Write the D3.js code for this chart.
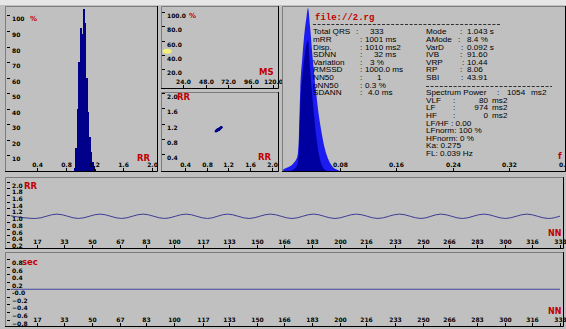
<!DOCTYPE html>
<html><head><meta charset="utf-8">
<script src="https://cdn.jsdelivr.net/npm/d3@7/dist/d3.min.js"></script>
<style>
html,body{margin:0;padding:0;background:#c0c0c0;overflow:hidden}
svg{display:block}
</style></head><body>
<svg id="chart" width="566" height="329"></svg>
<script>
// ================= DATA =================
// RR histogram (top-left)
const histRR  = [0.93,0.95,0.97,0.99,1.01,1.03,1.05,1.07,1.09,1.11,1.13,1.15,1.17,1.19,1.21];
const histPct = [2,15,40,70,92,88,104,95,60,38,22,12,6,3,1];
const histXTicks = [0.4,0.8,1.2,1.6,2.0];
const histYTicks = [100,90,80,70,60,50,40,30,20,10];

// differences histogram (top-middle)
const diffXTicks = [24,48,72,96,120];
const diffYTicks = [100,80,60,40,20];
const diffMs  = [7];
const diffPct = [45];

// Poincare plot (middle)
const poincareTicks = [0.4,0.8,1.2,1.6,2.0];
const poincareRRn  = [0.97,0.98,0.99,1.00,1.01,1.02,1.03,1.04,1.05,1.06,1.07,1.00,1.03,1.02];
const poincareRRn1 = [1.00,1.01,1.02,1.03,1.04,1.05,1.06,1.07,1.08,1.09,1.10,1.04,1.05,1.03];

// spectrum (right)
const specFreq  = [0,0.005,0.010,0.015,0.020,0.022,0.024,0.027,0.030,0.033,0.035,0.038,0.041,0.044,0.047,0.050,0.054,0.058,0.062,0.066,0.070,0.075,0.080];
const specPower = [1,2,3,5,9,20,50,70,85,95,100,88,72,58,46,35,24,15,9,5,2.5,1,0];
const specCore  = [0,0,0,1,4,12,40,58,70,78,80,62,46,32,20,11,4,1,0,0,0,0,0];
const specXTicks = [0.08,0.16,0.24,0.32,0.40];

// rhythmogram (bottom)
const beatTicks = [17,33,50,67,83,100,117,133,150,166,183,200,216,233,250,266,283,300,316,333];
const rrYTicks  = [2.0,1.8,1.6,1.4,1.2,1.0,0.8,0.6,0.4,0.2];
const rrBeats   = [1,16,29,42,55,68,81,94,107,120,132,145,158,171,184,197,210,223,236,249,261,274,287,300,313,326,333];
const rrValues  = [0.98,0.90,1.03,0.90,1.03,0.90,1.03,0.90,1.03,0.90,1.03,0.90,1.03,0.90,1.03,0.90,1.03,0.90,1.03,0.90,1.03,0.90,1.03,0.90,1.03,0.90,0.97];
const secYTicks = [0.8,0.6,0.4,0.2,0,-0.2,-0.4,-0.6,-0.8];
const diffBeats = [1,333];
const diffSec   = [0,0];

// statistics text
const fileName = "file://2.rg";
const statNames1  = ["Total QRS","mRR","Disp.","SDNN","Variation","RMSSD","NN50","pNN50","SDANN"];
const statValues1 = ["333","1001 ms","1010 ms2","32 ms","3 %","1000.0 ms","1","0.3 %","4.0 ms"];
const statNames2  = ["Mode","AMode","VarD","IVB","VRP","RP","SBI"];
const statValues2 = ["1.043 s","8.4 %","0.092 s","91.60","10.44","8.06","43.91"];
const specTitle = "Spectrum Power";
const specTitleValue = "1054";
const bandNames  = ["VLF","LF","HF"];
const bandValues = ["80","974","0"];
const bandUnit = "ms2";
const extraLines = ["LF/HF : 0.00","LFnorm: 100 %","HFnorm: 0 %","Ka: 0.275","FL: 0.039 Hz"];

// ================= DRAW =================
const svg = d3.select("#chart");
const RED = "#c00000", NAVY = "#00008a", TXT = "#000";
const TICKFONT = "'DejaVu Sans',sans-serif";
const BODYFONT = "'Liberation Sans',Arial,sans-serif";
const BODYSIZE = 6.7, BODYSTRETCH = 1.22;

svg.append("rect").attr("width",566).attr("height",329).attr("fill","#c0c0c0");
svg.append("rect").attr("width",566).attr("height",5).attr("fill","#e6e6e6");

function frame(x0,y0,x1,y1){
  svg.append("rect").attr("x",x0).attr("y",y0).attr("width",x1-x0).attr("height",y1-y0).attr("fill","#c0c0c0");
  svg.append("path").attr("d",`M${x0+0.5},${y1}V${y0+0.5}H${x1}`).attr("stroke","#7c7c7c").attr("stroke-width",1).attr("fill","none");
  svg.append("path").attr("d",`M${x0},${y1-0.5}H${x1-0.5}V${y0}`).attr("stroke","#000").attr("stroke-width",1).attr("fill","none");
}
function tickText(x,y,s,anchor){
  return svg.append("text").attr("x",x).attr("y",y).attr("font-family",TICKFONT).attr("font-weight","bold")
    .attr("font-size",6).attr("fill",TXT).attr("text-anchor",anchor||"start").text(s);
}
function redText(x,y,s,size){
  return svg.append("text").attr("x",x).attr("y",y).attr("font-family",TICKFONT).attr("font-weight","bold")
    .attr("font-size",size||8.5).attr("fill",RED).text(s);
}
function yTicks(scale,ticks,x,fmt){
  ticks.forEach(t=>{
    const y = Math.round(scale(t))+0.5;
    svg.append("line").attr("x1",x).attr("x2",x+3).attr("y1",y).attr("y2",y).attr("stroke","#000");
    tickText(x+5,y+5,fmt(t));
  });
}
function xTicks(scale,ticks,axisY,fmt){
  ticks.forEach(t=>{
    const x = Math.round(scale(t))+0.5;
    svg.append("line").attr("x1",x).attr("x2",x).attr("y1",axisY-3).attr("y2",axisY).attr("stroke","#000");
    tickText(x,axisY-4,fmt(t),"middle");
  });
}

// ---------- Panel A: RR histogram ----------
frame(5,6,158,172);
const hx = d3.scaleLinear().domain([0.4,2.0]).range([37,152]);
const hy = d3.scaleLinear().domain([0,100]).range([171,15.4]);
svg.append("g").attr("shape-rendering","crispEdges").selectAll("rect").data(histRR).join("rect")
  .attr("x",d=>Math.floor(hx(d-0.01))).attr("width",d=>Math.ceil(hx(d+0.01))-Math.floor(hx(d-0.01)))
  .attr("y",(d,i)=>hy(histPct[i])).attr("height",(d,i)=>hy(0)-hy(histPct[i]))
  .attr("fill",NAVY);
yTicks(hy,histYTicks,7,d=>d);
redText(30,20.5,"%",7);
xTicks(hx,histXTicks,171,d3.format(".1f"));
redText(137,161,"RR");

// ---------- Panel B: differences histogram ----------
frame(161,6,279,89);
const dx = d3.scaleLinear().domain([24,120]).range([183,273]);
const dy = d3.scaleLinear().domain([0,100]).range([83.25,12]);
svg.append("g").selectAll("ellipse").data(diffMs).join("ellipse")
  .attr("cx",d=>dx(d)).attr("cy",(d,i)=>dy(diffPct[i])).attr("rx",4.5).attr("ry",2.5).attr("fill","#f2f27a");
yTicks(dy,diffYTicks,162,d3.format(".1f"));
redText(189,17.5,"%",7);
xTicks(dx,diffXTicks,88,d3.format(".1f"));
redText(259,75,"MS");

// ---------- Panel C: Poincare ----------
frame(161,92,279,172);
const px = d3.scaleLinear().domain([0.4,2.0]).range([185,272]);
const py = d3.scaleLinear().domain([0.4,2.0]).range([154,93]);
svg.append("g").selectAll("circle").data(poincareRRn).join("circle")
  .attr("cx",d=>px(d)).attr("cy",(d,i)=>py(poincareRRn1[i])).attr("r",1.3).attr("fill",NAVY);
yTicks(py,poincareTicks,162,d3.format(".1f"));
redText(177,99.5,"RR");
xTicks(px,poincareTicks,171,d3.format(".1f"));
redText(258,160,"RR");

// ---------- Panel D: spectrum + stats ----------
frame(282,6,566,172);
const sx = d3.scaleLinear().domain([0,0.40]).range([283.3,566]);
const sy = d3.scaleLinear().domain([0,100]).range([171,8]);
const area = d3.area().x((d,i)=>sx(specFreq[i])).y0(sy(0)).curve(d3.curveMonotoneX);
svg.append("path").datum(specPower).attr("d",area.y1(d=>sy(d))).attr("fill","#1c1cf0");
svg.append("path").datum(specCore).attr("d",area.y1(d=>sy(d))).attr("fill","#0000a0");
xTicks(sx,specXTicks,171,d3.format(".2f"));
redText(558,158.5,"f");

// stats
svg.append("text").attr("x",315).attr("y",19.5).attr("font-family","'Liberation Mono',monospace")
  .attr("font-weight","bold").attr("font-size",9).attr("fill",RED).text(fileName);
function dashLine(x0,x1,y){
  svg.append("line").attr("x1",x0).attr("x2",x1).attr("y1",y+0.5).attr("y2",y+0.5)
    .attr("stroke","#303030").attr("stroke-dasharray","3,1.6");
}
dashLine(313,500,24);
function body(x,y,s,anchor){
  return svg.append("text").attr("transform",`translate(${x},${y}) scale(${BODYSTRETCH},1)`)
    .attr("font-family",BODYFONT).attr("font-size",BODYSIZE).attr("fill",TXT)
    .attr("text-anchor",anchor||"start").text(s);
}
const rowY = i => 34.3 + i*7.6;
const colon1 = [356,360,360,360,360,360,360,360,360];
const val1X  = [370,365,365,374,370,365,377,365,368];
statNames1.forEach((n,i)=>{ body(313,rowY(i),n); body(colon1[i],rowY(i),":"); body(val1X[i],rowY(i),statValues1[i]); });
const colon2 = [460,458,461,460,462,460,461];
statNames2.forEach((n,i)=>{ body(426,rowY(i),n); body(colon2[i],rowY(i),":"); body(467,rowY(i),statValues2[i]); });
dashLine(426,552,86);
body(426,rowY(8),specTitle); body(497,rowY(8),":"); body(507,rowY(8),specTitleValue); body(531,rowY(8),bandUnit);
bandNames.forEach((n,i)=>{
  body(426,rowY(9+i),n); body(453,rowY(9+i),":");
  body(488,rowY(9+i),bandValues[i],"end");
  body(492,rowY(9+i),bandUnit);
});
extraLines.forEach((s,i)=>body(426,rowY(12+i),s));

// ---------- Panel E: RR rhythmogram ----------
frame(5,177,564,249);
const bx = d3.scaleLinear().domain([0,333]).range([9,560]);
const ry = d3.scaleLinear().domain([0.2,2.0]).range([242,181.5]);
svg.append("path").datum(rrValues)
  .attr("d",d3.line().x((d,i)=>bx(rrBeats[i])).y(d=>ry(d)).curve(d3.curveMonotoneX))
  .attr("fill","none").attr("stroke","#3c3c96").attr("stroke-width",1);
yTicks(ry,rrYTicks,7,d3.format(".1f"));
redText(24,188.5,"RR");
xTicks(bx,beatTicks,248,d=>d);
redText(548,235.5,"NN",8);

// ---------- Panel F: differences ----------
frame(5,252,564,327);
const ey = d3.scaleLinear().domain([-0.8,0.8]).range([319.5,259]);
svg.append("path").datum(diffSec)
  .attr("d",d3.line().x((d,i)=>bx(diffBeats[i])).y(d=>ey(d)))
  .attr("fill","none").attr("stroke","#4646a0").attr("stroke-width",1);
yTicks(ey,secYTicks,7,d=>d===0?"-0.0":d3.format(".1f")(d));
redText(22,265,"sec");
xTicks(bx,beatTicks,326,d=>d);
redText(548,313.5,"NN",8);
</script></body></html>
